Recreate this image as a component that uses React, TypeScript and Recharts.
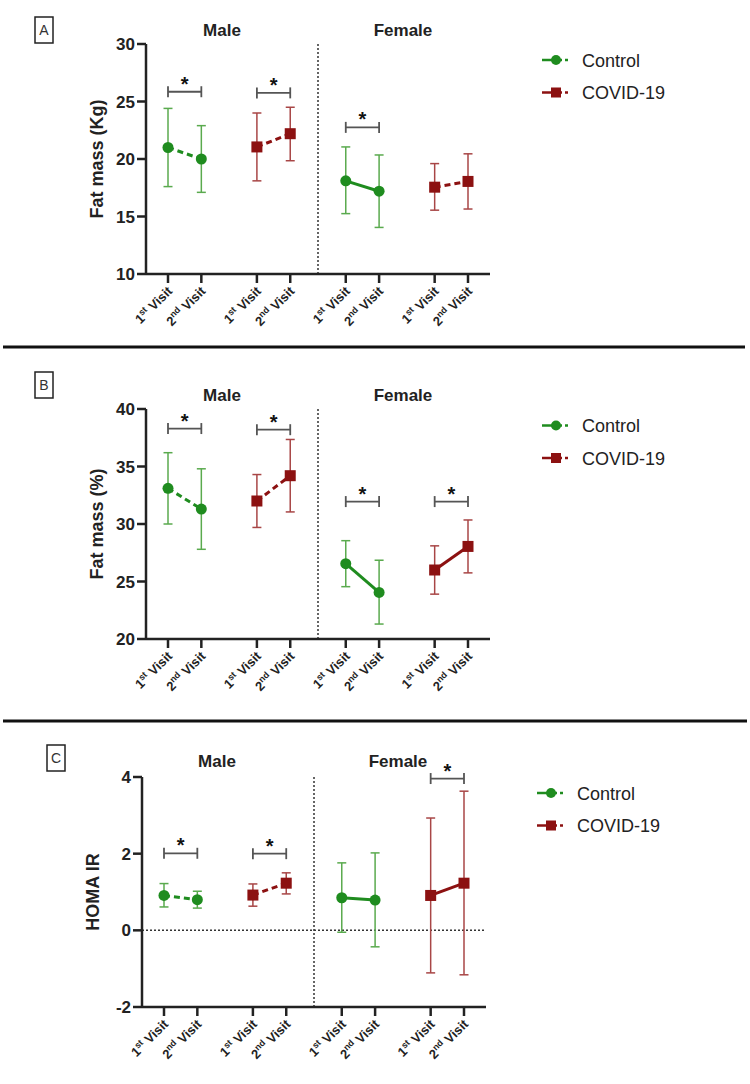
import { ComposedChart, Line, XAxis, YAxis, ErrorBar, Scatter, ReferenceLine } from 'recharts';

const FONT = '"Liberation Sans", Arial, sans-serif';
const GREEN = '#1f8c1f';
const GREEN_ERR = '#5aaa4e';
const RED = '#8c1111';
const RED_ERR = '#a84646';

// x positions of the 8 visit ticks (Male ctrl, Male covid, Female ctrl, Female covid)
const visitPos = [1, 2, 3.667, 4.667, 6.333, 7.333, 9, 10];
const visitNum = ['1', '2', '1', '2', '1', '2', '1', '2'];
const visitSuffix = ['st', 'nd', 'st', 'nd', 'st', 'nd', 'st', 'nd'];
const groupColor = [GREEN, RED, GREEN, RED];

// Panel A - Fat mass (Kg): [1st visit, 2nd visit] per group
const fatKgMean = [[21.0, 20.0], [21.05, 22.2], [18.1, 17.2], [17.55, 18.05]];
const fatKgLow = [[17.6, 17.1], [18.1, 19.85], [15.25, 14.05], [15.55, 15.65]];
const fatKgHigh = [[24.4, 22.9], [24.0, 24.5], [21.05, 20.35], [19.6, 20.45]];
const fatKgDashed = [true, true, false, true];
const fatKgSig = [[0, 25.85], [1, 25.75], [2, 22.75]];

// Panel B - Fat mass (%)
const fatPctMean = [[33.1, 31.3], [32.0, 34.2], [26.55, 24.05], [26.0, 28.05]];
const fatPctLow = [[30.0, 27.8], [29.7, 31.05], [24.55, 21.3], [23.9, 25.75]];
const fatPctHigh = [[36.2, 34.8], [34.3, 37.35], [28.55, 26.85], [28.1, 30.35]];
const fatPctDashed = [true, true, false, false];
const fatPctSig = [[0, 38.3], [1, 38.2], [2, 31.95], [3, 31.95]];

// Panel C - HOMA IR
const homaMean = [[0.91, 0.8], [0.92, 1.23], [0.85, 0.79], [0.91, 1.23]];
const homaLow = [[0.61, 0.58], [0.63, 0.95], [-0.05, -0.43], [-1.11, -1.16]];
const homaHigh = [[1.22, 1.02], [1.21, 1.5], [1.76, 2.02], [2.93, 3.63]];
const homaDashed = [true, true, false, false];
const homaSig = [[0, 2.01], [1, 2.0], [3, 3.96]];

const VisitTick = (props: any) => {
  const { x, y, payload } = props;
  const i = visitPos.indexOf(payload.value);
  return (
    <g transform={`translate(${x + 5},${y + 7})`}>
      <text transform="rotate(-45)" textAnchor="end" fontSize={13} fontWeight="bold" fill="#222" fontFamily={FONT}>
        {visitNum[i]}
        <tspan fontSize={9} dy={-5}>{visitSuffix[i]}</tspan>
        <tspan dy={5}> Visit</tspan>
      </text>
    </g>
  );
};

const CircleDot = (p: any) => <circle key={`c-${p.index}`} cx={p.cx} cy={p.cy} r={5.5} fill={GREEN} />;
const SquareDot = (p: any) => <rect key={`s-${p.index}`} x={p.cx - 5.5} y={p.cy - 5.5} width={11} height={11} fill={RED} />;
const Star = (p: any) => (
  <text x={p.cx} y={p.cy - 1} textAnchor="middle" fontSize={20} fontWeight="bold" fill="#111" fontFamily={FONT}>*</text>
);

type PanelProps = {
  top: number;
  shift: number;
  yDomain: number[];
  yTicks: number[];
  yLabel: string;
  mean: number[][];
  low: number[][];
  high: number[][];
  dashed: boolean[];
  sig: number[][];
  zeroLine?: boolean;
};

const Panel = ({ top, shift, yDomain, yTicks, yLabel, mean, low, high, dashed, sig, zeroLine }: PanelProps) => {
  const sigData = sig.map(([g, level]) => ({
    x: (visitPos[g * 2] + visitPos[g * 2 + 1]) / 2,
    y: level,
    half: (visitPos[g * 2 + 1] - visitPos[g * 2]) / 2,
  }));
  return (
    <div style={{ position: 'absolute', top, left: shift }}>
      <ComposedChart width={750} height={334} margin={{ top: 44, right: 260, bottom: 0, left: 86 }} style={{ overflow: 'visible' }}>
        <XAxis
          type="number"
          dataKey="x"
          domain={[0.34, 10.66]}
          ticks={visitPos}
          interval={0}
          tick={<VisitTick />}
          tickSize={9}
          height={60}
          axisLine={{ stroke: '#222', strokeWidth: 2.5 }}
          tickLine={{ stroke: '#222', strokeWidth: 2.5 }}
        />
        <YAxis
          type="number"
          dataKey="y"
          domain={yDomain}
          ticks={yTicks}
          interval={0}
          width={60}
          tickSize={9}
          tickMargin={2}
          tick={{ fontSize: 17, fontWeight: 'bold', fill: '#222', fontFamily: FONT }}
          axisLine={{ stroke: '#222', strokeWidth: 2.5 }}
          tickLine={{ stroke: '#222', strokeWidth: 2.5 }}
          label={{
            content: (lp: any) => {
              const vb = lp.viewBox;
              const cx = vb.x + vb.width - 49;
              const cy = vb.y + vb.height / 2;
              return (
                <text
                  x={cx}
                  y={cy}
                  transform={`rotate(-90, ${cx}, ${cy})`}
                  textAnchor="middle"
                  dominantBaseline="central"
                  fontSize={18}
                  fontWeight="bold"
                  fill="#222"
                  fontFamily={FONT}
                >
                  {yLabel}
                </text>
              );
            },
          }}
        />
        <ReferenceLine x={5.5} stroke="#333" strokeWidth={1.5} strokeDasharray="2 2" />
        {zeroLine && <ReferenceLine y={0} stroke="#333" strokeWidth={1.5} strokeDasharray="2 2" />}
        {mean.map((m, g) => {
          const seg = [0, 1].map((v) => ({
            x: visitPos[g * 2 + v],
            y: m[v],
            err: [m[v] - low[g][v], high[g][v] - m[v]],
          }));
          const color = groupColor[g];
          return (
            <Line
              key={`g-${g}`}
              data={seg}
              dataKey="y"
              stroke={color}
              strokeWidth={3}
              strokeDasharray={dashed[g] ? '6 4' : undefined}
              dot={g % 2 === 0 ? CircleDot : SquareDot}
              activeDot={false}
              isAnimationActive={false}
            >
              <ErrorBar dataKey="err" direction="y" width={4.5} stroke={g % 2 === 0 ? GREEN_ERR : RED_ERR} strokeWidth={1.5} />
            </Line>
          );
        })}
        <Scatter data={sigData} dataKey="y" shape={Star} isAnimationActive={false}>
          <ErrorBar dataKey="half" direction="x" width={5.5} stroke="#555" strokeWidth={1.8} />
        </Scatter>
      </ComposedChart>
    </div>
  );
};

const LegendBlock = ({ x, y }: { x: number; y: number }) => (
  <g fontFamily={FONT}>
    <line x1={x} y1={y} x2={x + 20} y2={y} stroke={GREEN} strokeWidth={2.5} />
    <line x1={x + 23} y1={y} x2={x + 26} y2={y} stroke={GREEN} strokeWidth={2.5} />
    <circle cx={x + 14} cy={y} r={5} fill={GREEN} />
    <text x={x + 40} y={y + 6.5} fontSize={18} fill="#222">Control</text>
    <line x1={x} y1={y + 32.5} x2={x + 20} y2={y + 32.5} stroke={RED} strokeWidth={2.5} />
    <line x1={x + 23} y1={y + 32.5} x2={x + 26} y2={y + 32.5} stroke={RED} strokeWidth={2.5} />
    <rect x={x + 9} y={y + 27.5} width={10} height={10} fill={RED} />
    <text x={x + 40} y={y + 39} fontSize={18} fill="#222">COVID-19</text>
  </g>
);

const Titles = ({ y, shift }: { y: number; shift: number }) => (
  <g fontFamily={FONT} fontSize={17} fontWeight="bold" fill="#222" textAnchor="middle">
    <text x={222 + shift} y={y}>Male</text>
    <text x={403 + shift} y={y}>Female</text>
  </g>
);

const BoxLetter = ({ x, y, letter }: { x: number; y: number; letter: string }) => (
  <g fontFamily={FONT}>
    <rect x={x} y={y} width={18} height={26} fill="none" stroke="#222" strokeWidth={1.5} />
    <text x={x + 9} y={y + 18} textAnchor="middle" fontSize={14} fill="#333">{letter}</text>
  </g>
);

export default function App() {
  return (
    <div style={{ position: 'absolute', top: 0, left: 0, width: 750, height: 1084, background: '#fff' }}>
      <Panel
        top={0}
        shift={0}
        yDomain={[10, 30]}
        yTicks={[10, 15, 20, 25, 30]}
        yLabel="Fat mass (Kg)"
        mean={fatKgMean}
        low={fatKgLow}
        high={fatKgHigh}
        dashed={fatKgDashed}
        sig={fatKgSig}
      />
      <Panel
        top={365}
        shift={0}
        yDomain={[20, 40]}
        yTicks={[20, 25, 30, 35, 40]}
        yLabel="Fat mass (%)"
        mean={fatPctMean}
        low={fatPctLow}
        high={fatPctHigh}
        dashed={fatPctDashed}
        sig={fatPctSig}
      />
      <Panel
        top={733}
        shift={-4}
        yDomain={[-2, 4]}
        yTicks={[-2, 0, 2, 4]}
        yLabel="HOMA IR"
        mean={homaMean}
        low={homaLow}
        high={homaHigh}
        dashed={homaDashed}
        sig={homaSig}
        zeroLine
      />
      <svg width={750} height={1084} style={{ position: 'absolute', top: 0, left: 0, pointerEvents: 'none' }}>
        <BoxLetter x={35} y={17} letter="A" />
        <BoxLetter x={35} y={372} letter="B" />
        <BoxLetter x={47} y={745} letter="C" />
        <Titles y={36} shift={0} />
        <Titles y={401} shift={0} />
        <Titles y={767} shift={-5} />
        <LegendBlock x={542} y={60} />
        <LegendBlock x={542} y={425.5} />
        <LegendBlock x={537} y={793} />
        <line x1={3} y1={347} x2={745} y2={347} stroke="#111" strokeWidth={3} />
        <line x1={3} y1={721} x2={747} y2={721} stroke="#111" strokeWidth={3} />
      </svg>
    </div>
  );
}
